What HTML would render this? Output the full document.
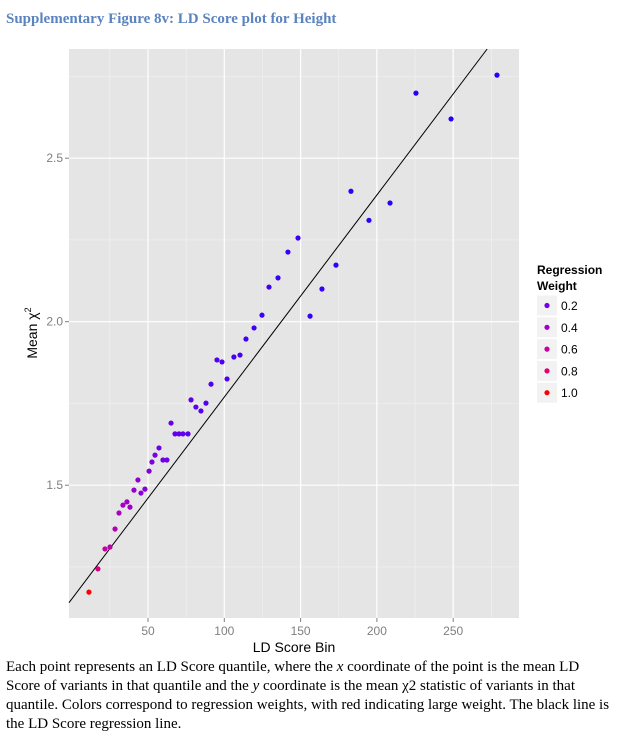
<!DOCTYPE html>
<html><head><meta charset="utf-8"><style>
body{margin:0;background:#fff;width:641px;height:743px;overflow:hidden;position:relative}
#title{position:absolute;left:6px;top:11px;font:bold 15px "Liberation Serif",serif;color:#5b84bf}
#cap{position:absolute;left:6px;top:658px;font:15px/19px "Liberation Serif",serif;color:#000;width:635px;white-space:nowrap}
svg{position:absolute;left:0;top:0}
</style></head><body>
<div id="title">Supplementary Figure 8v: LD Score plot for Height</div>
<svg id="chart" width="641" height="655"></svg>
<div id="cap">Each point represents an LD Score quantile, where the <i>x</i> coordinate of the point is the mean LD<br>Score of variants in that quantile and the <i>y</i> coordinate is the mean χ2 statistic of variants in that<br>quantile. Colors correspond to regression weights, with red indicating large weight. The black line is<br>the LD Score regression line.</div>
<script>
const ldScore=[11.3,17.2,21.8,25.1,28.4,31.0,33.6,36.2,38.2,40.8,43.4,45.4,48.0,50.7,52.6,54.6,57.2,59.8,62.4,65.1,67.7,70.3,72.9,76.2,78.2,81.4,84.7,88.0,91.3,95.2,98.5,101.8,106.3,110.3,114.2,119.5,124.7,129.3,135.2,141.7,148.3,156.2,164.0,173.2,183.0,194.8,208.6,225.6,248.6,278.7];
const meanChi2=[1.173,1.244,1.305,1.311,1.366,1.415,1.439,1.449,1.433,1.485,1.516,1.476,1.488,1.543,1.571,1.592,1.614,1.577,1.577,1.690,1.657,1.657,1.657,1.657,1.761,1.739,1.727,1.751,1.809,1.883,1.877,1.825,1.892,1.898,1.947,1.981,2.020,2.106,2.134,2.213,2.256,2.017,2.100,2.173,2.399,2.310,2.363,2.699,2.620,2.754];
const weights=[1.0,0.75,0.6,0.55,0.5,0.45,0.42,0.4,0.38,0.35,0.32,0.3,0.28,0.26,0.24,0.22,0.2,0.19,0.18,0.17,0.16,0.15,0.15,0.14,0.13,0.12,0.12,0.11,0.1,0.1,0.09,0.09,0.08,0.08,0.07,0.07,0.06,0.06,0.05,0.05,0.05,0.04,0.04,0.04,0.03,0.03,0.03,0.02,0.02,0.02];
const xTicks=[50,100,150,200,250];
const yTicks=[1.5,2.0,2.5];
const legendVals=[0.2,0.4,0.6,0.8,1.0];
const intercept=1.1515, slope=0.00618;
const L=69,R=519,T=49,B=618;
const sx=v=>71.7+v*1.526, sy=v=>648.7-(v-1)*327;
const col=w=>`rgb(${Math.round(255*Math.sqrt(w))},0,${Math.round(255*Math.sqrt(1-w))})`;
const svg=document.getElementById('chart'),NS='http://www.w3.org/2000/svg';
function mk(t,a,txt,p){const e=document.createElementNS(NS,t);for(const k in a)e.setAttribute(k,a[k]);if(txt!=null)e.textContent=txt;(p||svg).appendChild(e);return e;}
let e=mk('rect',{x:L,y:T,width:R-L,height:B-T,fill:'#e5e5e5'});


for(let v=25;v<=275;v+=50){e=mk('line',{x1:sx(v),x2:sx(v),y1:T,y2:B,stroke:'#f2f2f2','stroke-width':0.6});}
for(let v=1.25;v<=2.8;v+=0.5){e=mk('line',{x1:L,x2:R,y1:sy(v),y2:sy(v),stroke:'#f2f2f2','stroke-width':0.6});}
xTicks.forEach(v=>{
e=mk('line',{x1:sx(v),x2:sx(v),y1:T,y2:B,stroke:'#fff','stroke-width':1.2});


mk('line',{x1:sx(v),x2:sx(v),y1:B,y2:B+4,stroke:'#7f7f7f'});
e=mk('text',{x:sx(v),y:B+17,'text-anchor':'middle','font-family':'Liberation Sans,sans-serif','font-size':12,fill:'#7f7f7f'},v);


});
yTicks.forEach(v=>{
e=mk('line',{x1:L,x2:R,y1:sy(v),y2:sy(v),stroke:'#fff','stroke-width':1.2});


mk('line',{x1:L-4,x2:L,y1:sy(v),y2:sy(v),stroke:'#7f7f7f'});
e=mk('text',{x:L-6,y:sy(v)+4,'text-anchor':'end','font-family':'Liberation Sans,sans-serif','font-size':12,fill:'#7f7f7f'},v.toFixed(1));


});
const x0=(L-71.7)/1.526, yTop=1+(648.7-T)/327, xTop=(yTop-intercept)/slope;
e=mk('line',{x1:L,y1:sy(intercept+slope*x0),x2:sx(xTop),y2:T,stroke:'#000','stroke-width':1});


ldScore.forEach((v,i)=>{
const c=mk('circle',{cx:sx(v),cy:sy(meanChi2[i]),r:2.6,fill:col(weights[i])});


});
e=mk('text',{x:294,y:652,'text-anchor':'middle','font-family':'Liberation Sans,sans-serif','font-size':14},'LD Score Bin');


e=mk('text',{x:0,y:0,transform:'translate(37,333) rotate(-90)','text-anchor':'middle','font-family':'Liberation Sans,sans-serif','font-size':14},'Mean χ');


mk('tspan',{'font-size':9,dy:-6},'2',e);
e=mk('text',{x:537,y:274,'font-family':'Liberation Sans,sans-serif','font-size':12,'font-weight':'bold'},'Regression');


mk('text',{x:537,y:290,'font-family':'Liberation Sans,sans-serif','font-size':12,'font-weight':'bold'},'Weight');
legendVals.forEach((v,i)=>{
const cy=305.5+i*21.8;
mk('rect',{x:537,y:cy-10,width:20,height:20,fill:'#f2f2f2'});
e=mk('circle',{cx:547,cy:cy,r:2.6,fill:col(v)});


mk('text',{x:561,y:cy+4.5,'font-family':'Liberation Sans,sans-serif','font-size':12},v.toFixed(1));
});
</script>
</body></html>
